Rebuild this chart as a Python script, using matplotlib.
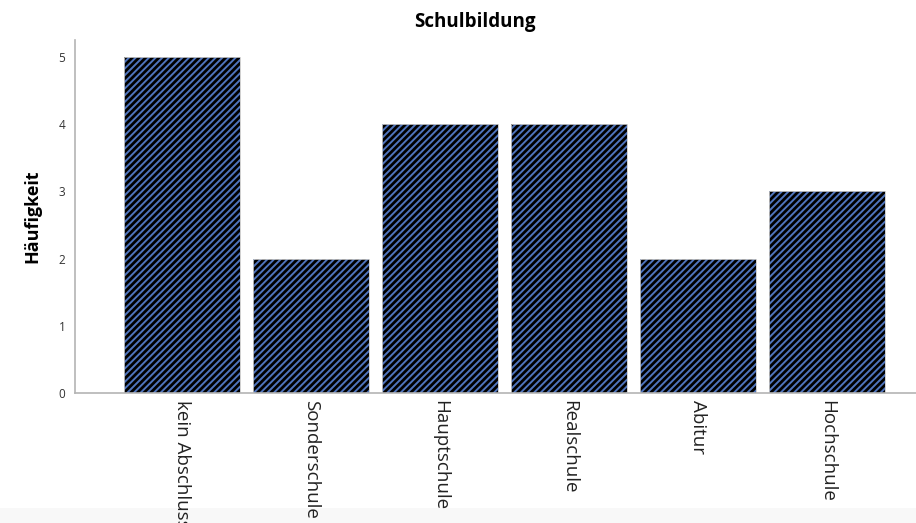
import matplotlib.pyplot as plt
from matplotlib.patches import Rectangle

categories = ['kein Abschluss', 'Sonderschule', 'Hauptschule', 'Realschule', 'Abitur', 'Hochschule']
counts = [5, 2, 4, 4, 2, 3]

plt.rcParams['font.family'] = ['Open Sans', 'DejaVu Sans']
plt.rcParams['hatch.linewidth'] = 1.4

fig = plt.figure(figsize=(9.16, 5.23), dpi=100)
ax = fig.add_axes([0.0819, 0.2486, 0.9181, 0.6749])

x = range(len(categories))
ax.bar(x, counts, width=0.9, color='black', edgecolor='#4f74bd', hatch='/////', linewidth=0)
ax.bar(x, counts, width=0.9, fill=False, edgecolor='#c8c8c8', linewidth=0.6)

ax.set_xlim(-0.83, 5.69)
ax.set_ylim(0, 5.25)
ax.set_yticks(range(6))
ax.set_xticks(list(x))
ax.set_xticklabels(categories, rotation=270, fontsize=13.5, color='#222222', va='top')
ax.tick_params(axis='y', length=0, labelsize=8.5, labelcolor='#333333', pad=7)
ax.tick_params(axis='x', length=0, pad=5)

for s in ['top', 'right']:
    ax.spines[s].set_visible(False)
for s in ['left', 'bottom']:
    ax.spines[s].set_color('#b4b4b4')
    ax.spines[s].set_linewidth(1.2)

ax.set_ylabel('Häufigkeit', fontsize=13, fontweight='bold', labelpad=12)
fig.text(0.518, 0.957, 'Schulbildung', ha='center', va='center', fontsize=13.5, fontweight='bold')

# light grey strip at the bottom, behind the labels
fig.patches.append(Rectangle((0, 0), 1, 15 / 523, transform=fig.transFigure,
                             facecolor='#f8f8f8', edgecolor='none', zorder=-1))

fig.savefig('out.png', dpi=100)
